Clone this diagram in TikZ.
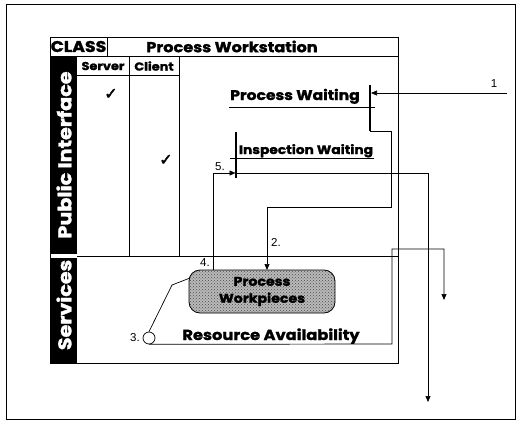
\documentclass[tikz,border=0pt]{standalone}
\usepackage{fontspec}
\usetikzlibrary{arrows.meta,patterns}
\newfontfamily\heavy{Poppins}[FakeStretch=1.12, BoldFeatures={FakeBold=1.6}]
\newfontfamily\plain{Liberation Sans}
\newfontfamily\symb{DejaVu Sans}[FakeBold=2.5]
\tikzset{
  hv/.style={font=\heavy\bfseries\fontsize{#1}{#1}\selectfont, inner sep=0pt},
  num/.style={font=\plain\fontsize{11.5}{11.5}\selectfont, inner sep=0pt},
  ln/.style={draw=black, line width=0.7pt},
  bar/.style={line width=1.8pt},
  arr/.style={ln, -{Triangle[length=6pt,width=5pt]}},
  sidetext/.style={hv=#1, text=white, rotate=90},
  chk/.style={font=\symb\fontsize{16}{16}\selectfont, inner sep=0pt},
}
\begin{document}
\begin{tikzpicture}[x=1pt,y=-1pt]
\useasboundingbox (0,0) rectangle (520,423);
% outer frame
\draw[line width=1pt] (6,4) rectangle (515,419);
% class frame
\draw[ln] (50,37) rectangle (398,363);
\draw[ln] (50,56) -- (398,56);
\draw[ln] (107,37) -- (107,56);
\node[hv=15.5] (cls) at (78.5,46.5) {CLASS};
\node[hv=14.4] (title) at (232,46.5) {Process Workstation};
% side bars
\fill[black] (50,56) rectangle (77,254);
\fill[black] (50,258) rectangle (77,363);
\node[sidetext=18.5] (pi) at (64,155) {Public Interface};
\node[sidetext=18.5] (sv) at (64,305) {Services};
% columns
\draw[ln] (77,75) -- (179,75);
\draw[ln] (129,56) -- (129,256);
\draw[ln] (179,56) -- (179,256);
\draw[ln] (77,256) -- (398,256);
\node[hv=11.5] (srv) at (103,66) {Server};
\node[hv=11.5] (cli) at (154,66) {Client};
\node[chk] (ck1) at (111,94) {✓};
\node[chk] (ck2) at (166,160) {✓};
% Process Waiting
\node[hv=13.9, anchor=base] (pw) at (295,100) {Process Waiting};
\coordinate (pwul) at (229,107);
\coordinate (pwur) at (375,107);
\draw[ln] (pwul) -- (pwur);
\coordinate (pwbt) at (370,85);
\coordinate (pwbb) at (370,131);
\draw[bar] (pwbt) -- (pwbb);
\coordinate (e1) at (507,93);
\coordinate (e1h) at (371,93);
\draw[arr] (e1) -- (e1h);
\node[num] (n1) at (494,84) {1};
% Inspection Waiting
\node[hv=12.3, anchor=base] (iw) at (306,154) {Inspection Waiting};
\coordinate (iwul) at (230,158);
\coordinate (iwur) at (374,158);
\draw[ln] (iwul) -- (iwur);
\coordinate (iwbt) at (236,132);
\coordinate (iwbb) at (236,178);
\draw[bar] (iwbt) -- (iwbb);
% Process Workpieces
\node[draw, line width=0.8pt, rounded corners=11pt, minimum width=146pt, minimum height=43pt,
      preaction={fill=gray!55}, pattern=crosshatch dots, pattern color=black!70,
      align=center, font=\heavy\bfseries\fontsize{12.6}{17}\selectfont, inner sep=0pt]
      (pwp) at (262,291.5) {Process\\Workpieces};
% connector 2
\coordinate (c2a) at (391,131);
\coordinate (c2b) at (391,207);
\coordinate (c2c) at (267,207);
\coordinate (c2d) at (267,270);
\draw[arr] (pwbb) -- (c2a) -- (c2b) -- (c2c) -- (c2d);
\node[num] (n2) at (276,242) {2.};
% connector 4/5
\coordinate (c4a) at (213,270);
\coordinate (c4b) at (213,173);
\coordinate (c5h) at (235.5,173);
\draw[arr] (c4a) -- (c4b) -- (c5h);
\node[num] (n4) at (205,263) {4.};
\node[num] (n5) at (220,167) {5.};
% outgoing from inspection waiting
\coordinate (o5s) at (236,173);
\coordinate (o5a) at (428,173);
\coordinate (o5b) at (428,402);
\draw[arr] (o5s) -- (o5a) -- (o5b);
% resource availability
\node[draw, circle, minimum size=12pt, inner sep=0pt, line width=0.7pt, fill=white] (rc) at (149,338) {};
\node[num] (n3) at (135,338) {3.};
\coordinate (k1) at (172,285);
\coordinate (k2) at (190,278);
\draw[ln] (rc.north) -- (k1) -- (k2);
\node[hv=14.5, anchor=base] (ra) at (271,340) {Resource Availability};
\coordinate (r1) at (392,344);
\coordinate (r2) at (392,249);
\coordinate (r3) at (444,249);
\coordinate (r4) at (444,300);
\draw[arr] (rc.south) -- (r1) -- (r2) -- (r3) -- (r4);
\end{tikzpicture}
\end{document}
